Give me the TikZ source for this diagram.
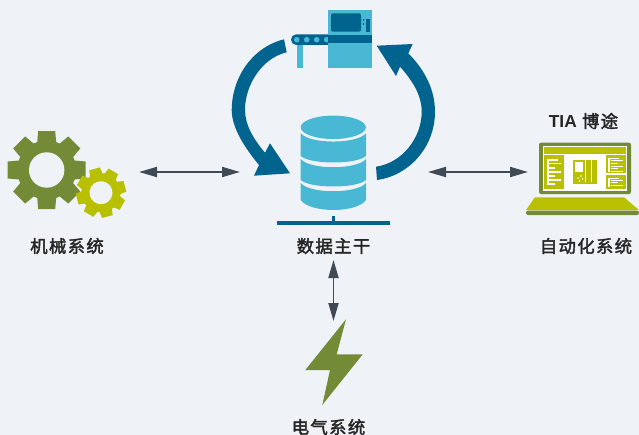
\documentclass[tikz,border=0pt]{standalone}
\usepackage{fontspec}
\setmainfont{Noto Sans CJK SC}
\newfontfamily\labelfont[LetterSpace=8,FakeBold=2.2]{Noto Sans CJK SC}
\newfontfamily\tiafont{Liberation Sans}
\usepackage{xcolor}
\usetikzlibrary{arrows.meta}

\definecolor{pagebg}{HTML}{EFF3F7}
\definecolor{deepblue}{HTML}{00648F}
\definecolor{skyblue}{HTML}{49B8D4}
\definecolor{olive}{HTML}{738B36}
\definecolor{lime}{HTML}{B9C000}
\definecolor{slate}{HTML}{3F4A54}

\newcommand{\gearicon}[8]{%
  \begin{scope}[shift={(#1,#2)},rotate=#7]
    \fill[#8] (0,0) circle[radius=#3];
    \foreach \ang in {0,45,...,315}
      \fill[#8,rotate=\ang] (#3-2,-#5-1) -- (#4,-#5) -- (#4,#5) -- (#3-2,#5+1) -- cycle;
    \fill[pagebg] (0,0) circle[radius=#6];
  \end{scope}}

\begin{document}
\begin{tikzpicture}[x=0.75pt,y=-0.75pt,
    link/.style={{Triangle[length=13.5pt,width=7.5pt]}-{Triangle[length=13.5pt,width=7.5pt]},slate,line width=1.4pt},
    caption/.style={inner sep=0pt,text=black!85,font=\labelfont\fontsize{13pt}{14pt}\selectfont}]

  \useasboundingbox (0,0) rectangle (639,435);
  \fill[pagebg] (0,0) rectangle (639,435);

  % gears
  \gearicon{46.7}{170}{29.5}{39}{8.5}{17.7}{0}{olive}
  \gearicon{101}{192.7}{19.5}{24.7}{5.5}{11.5}{15}{lime}

  % machine
  \fill[deepblue,rounded corners=4pt] (291,34.3) rectangle (335,45);
  \fill[skyblue] (297,45) rectangle (303,68);
  \foreach \px in {296.7,306.7,316.7,326.7}
    \fill[skyblue] (\px,39.7) circle[radius=2.8];
  \fill[skyblue] (328,10) rectangle (372,68);
  \fill[deepblue] (328,35) rectangle (372,43);
  \fill[deepblue,rounded corners=1.5pt] (331,13.3) rectangle (361,31.7);
  \fill[deepblue] (366,19) rectangle (370,32);
  \fill[deepblue] (363.7,20) circle[radius=1];
  \fill[deepblue] (363.7,24) circle[radius=1];

  % cycle arrows
  \fill[deepblue] (284,39.3) .. controls (250,48) and (231.7,80) .. (231.7,110)
    .. controls (231.7,128) and (245,148) .. (259,165)
    -- (254,175.7) -- (290,173.3) -- (270,143.3) -- (265,152.7)
    .. controls (254,140) and (245,125) .. (245,110)
    .. controls (245,85) and (262,58) .. (286.7,52.3) -- cycle;
  \fill[deepblue] (376,166.7) .. controls (402,163) and (421.7,138) .. (421.7,111.7)
    .. controls (421.7,95) and (412,80) .. (400,66.7)
    -- (396,76) -- (376.7,45.7) -- (412.7,44) -- (408.3,53.3)
    .. controls (425,70) and (435,90) .. (435,111.7)
    .. controls (435,148) and (408,176) .. (377,180) -- cycle;

  % database
  \fill[skyblue] (333.3,127.3) ellipse[x radius=32.6,y radius=11.7];
  \foreach \ya/\yb/\dip in {133.3/156/6.5,159/180/6.5,183/200/10}
    \fill[skyblue] (300.7,\ya) .. controls (310,\ya+11) and (356.6,\ya+11) .. (366,\ya)
      -- (366,\yb) .. controls (356.6,\yb+\dip*1.33) and (310,\yb+\dip*1.33) .. (300.7,\yb) -- cycle;
  \fill[deepblue] (276.7,221.3) rectangle (390,225.3);
  \fill[deepblue] (331.7,216) rectangle (335,221.3);

  % laptop
  \fill[olive,rounded corners=1.5pt] (539,142.7) rectangle (631,194);
  \fill[white] (542.7,145.7) rectangle (627.3,190.7);
  \fill[lime] (544,147) rectangle (626,154);
  \fill[lime] (544,155) rectangle (564,189);
  \fill[lime] (606,155) rectangle (626,173.3);
  \fill[lime] (606,175) rectangle (626,189);
  \fill[white] (547,159) rectangle (557.7,160.7);
  \fill[white] (547,159) rectangle (548.7,185);
  \foreach \yy/\xe in {163.3/561,167.7/555,172/561,176/555,180/561,184/555}
    \fill[white] (548.7,\yy-0.8) rectangle (\xe,\yy+0.8);
  \fill[white] (608.3,158.3) rectangle (619,159.3);
  \fill[white] (608.3,158.3) rectangle (610,171.7);
  \foreach \yy/\xe in {160.7/623,163.3/618,166/623,168.7/618,171.3/623}
    \fill[white] (611,\yy-0.5) rectangle (\xe,\yy+0.5);
  \fill[white] (608.3,178.3) rectangle (619,179.3);
  \fill[white] (608.3,178.3) rectangle (610,187);
  \foreach \yy/\xe in {180/623,182.7/618,185.3/623}
    \fill[white] (611,\yy-0.5) rectangle (\xe,\yy+0.5);
  \fill[lime] (572.7,160) rectangle (585,184.3);
  \fill[white] (575,162.3) rectangle (583,171.7);
  \foreach \dx/\dy in {578/178,581/176,579.5/181,582.5/179}
    \fill[white] (\dx,\dy) circle[radius=0.8];
  \fill[lime] (586,160) rectangle (591,181.7);
  \fill[lime] (592,160) rectangle (597,181.7);
  \fill[lime] (579.3,182) rectangle (597,184.3);
  \fill[lime] (535,197.3) -- (624,197.3) -- (639,210) -- (526,210) -- cycle;
  \fill[olive,rounded corners=1.5pt] (526,210.7) rectangle (639,215);

  % bolt
  \fill[olive] (346,319.3) -- (305.3,370) -- (330,370) -- (322.3,405)
    -- (362.7,354.3) -- (336.7,354.3) -- cycle;

  % labels
  \node[caption] (gearslabel) at (67,246) {机械系统};
  \node[caption] (buslabel) at (333.5,246) {数据主干};
  \node[caption] (laptoplabel) at (586,246) {自动化系统};
  \node[caption] (boltlabel) at (328.5,427) {电气系统};
  \node[caption] (tialabel) at (583.5,121) {{\tiafont\bfseries TIA} 博途};

  % links
  \coordinate (gearsport) at (139,172);
  \coordinate (dbwest) at (240,172);
  \coordinate (dbeast) at (428,172);
  \coordinate (laptopport) at (528,172);
  \coordinate (bussouth) at (333.5,260);
  \coordinate (boltnorth) at (333.5,321);
  \draw[link] (gearsport) -- (dbwest);
  \draw[link] (dbeast) -- (laptopport);
  \draw[link] (bussouth) -- (boltnorth);

\end{tikzpicture}
\end{document}
